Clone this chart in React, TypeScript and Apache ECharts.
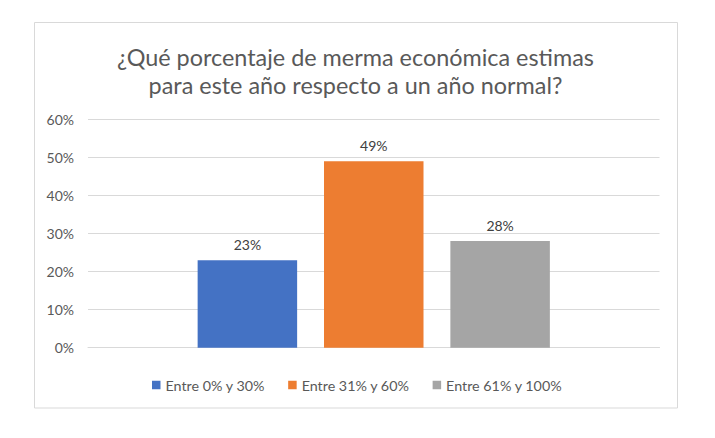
import React, { useEffect, useRef } from "react";
import * as echarts from "echarts";

const titleLines = [
  "¿Qué porcentaje de merma económica estimas",
  "para este año respecto a un año normal?",
];
const categories = [""];
const seriesNames = ["Entre 0% y 30%", "Entre 31% y 60%", "Entre 61% y 100%"];
const seriesValues = [23, 49, 28];
const seriesColors = ["#4472C4", "#ED7D31", "#A5A5A5"];
const yTicks = { min: 0, max: 60, interval: 10 };

const FONT = "Lato, 'Open Sans', sans-serif";

export default function App() {
  const ref = useRef<HTMLDivElement>(null);
  useEffect(() => {
    document.body.style.margin = "0";
    const chart = echarts.init(ref.current!, null, { renderer: "svg" });
    chart.setOption({
      animation: false,
      backgroundColor: "#ffffff",
      title: {
        text: titleLines.join("\n"),
        left: 355.5,
        top: 42.5,
        padding: 0,
        textAlign: "center",
        textStyle: {
          fontFamily: FONT,
          fontSize: 23.4,
          fontWeight: "normal",
          color: "#595959",
          lineHeight: 28.3,
        },
      },
      graphic: [
        {
          type: "rect",
          shape: { x: 34.5, y: 22.5, width: 643, height: 385.5 },
          style: { fill: "none", stroke: "#d9d9d9", lineWidth: 1 },
          silent: true,
          z: -1,
        },
      ],
      legend: {
        left: 152,
        top: 378,
        padding: 0,
        icon: "rect",
        itemWidth: 8.5,
        itemHeight: 8.5,
        itemGap: 23,
        data: seriesNames,
        textStyle: {
          fontFamily: FONT,
          fontSize: 14.3,
          color: "#595959",
          padding: [0, 0, 0, 0],
        },
      },
      grid: { left: 88, right: 55.5, top: 119.3, bottom: 90.3, containLabel: false },
      xAxis: {
        type: "category",
        data: categories,
        axisLine: { show: true, lineStyle: { color: "#d9d9d9" } },
        axisTick: { show: false },
        axisLabel: { show: false },
      },
      yAxis: {
        type: "value",
        min: yTicks.min,
        max: yTicks.max,
        interval: yTicks.interval,
        axisLine: { show: false },
        axisTick: { show: false },
        splitLine: { lineStyle: { color: "#d9d9d9" } },
        axisLabel: {
          formatter: "{value}%",
          fontFamily: FONT,
          fontSize: 14,
          color: "#595959",
          margin: 14,
        },
      },
      series: seriesNames.map((name, i) => ({
        name,
        type: "bar",
        barWidth: 99.5,
        barGap: "27%",
        itemStyle: { color: seriesColors[i] },
        label: {
          show: true,
          position: "top",
          distance: 9,
          formatter: "{c}%",
          fontFamily: FONT,
          fontSize: 14,
          color: "#404040",
        },
        data: [seriesValues[i]],
      })),
    });
    return () => chart.dispose();
  }, []);
  return <div ref={ref} style={{ width: 715, height: 438 }} />;
}
